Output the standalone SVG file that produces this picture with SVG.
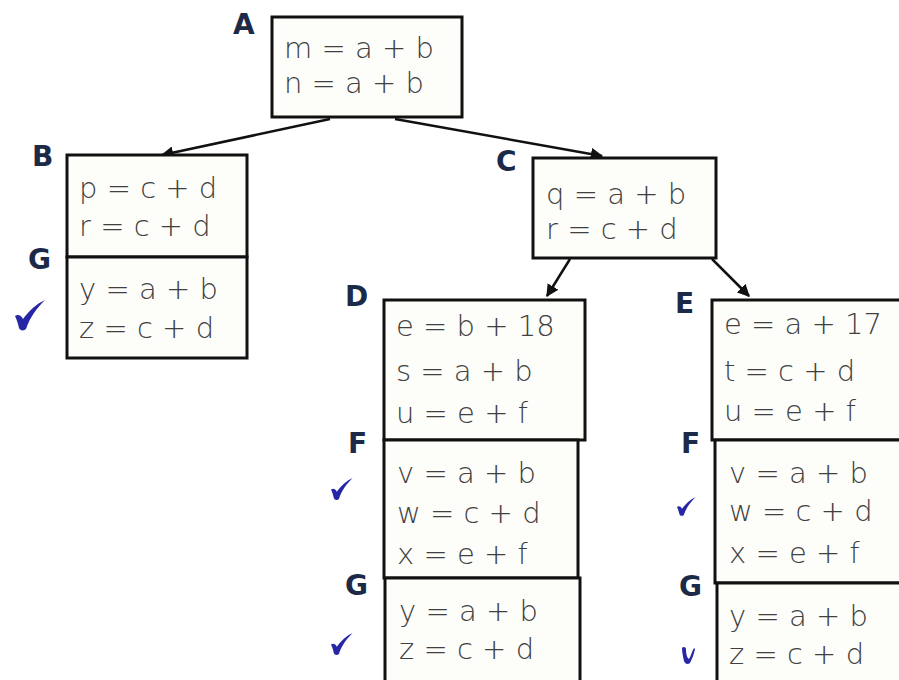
<svg xmlns="http://www.w3.org/2000/svg" width="899" height="680" viewBox="0 0 899 680">
<style>
.box{fill:#fdfdfa;stroke:#111;stroke-width:3}
.t{font-family:"DejaVu Sans",sans-serif;font-weight:200;font-size:29px;fill:#404040}
.lb{font-family:"DejaVu Sans",sans-serif;font-weight:bold;font-size:28px;fill:#1c2a48}
.edge{stroke:#111;stroke-width:2.5;fill:none;marker-end:url(#ah)}
.chk{fill:#2626a6}
</style>
<defs>
<marker id="ah" viewBox="0 0 10 10" refX="9" refY="5" markerWidth="5" markerHeight="5" orient="auto" markerUnits="strokeWidth">
<path d="M0,0 L10,5 L0,10 z" fill="#111"/>
</marker>
<path id="check" d="M0,16 C3,14 6,15 8,19 C14,11 21,4 30,0 C22,8 15,17 11,29 C9,31 5,31 4,28 C3,24 2,20 0,16 z"/>
</defs>
<rect width="899" height="680" fill="#ffffff"/>
<g id="connectors">
<line class="edge" x1="330" y1="119" x2="162" y2="155"/>
<line class="edge" x1="395" y1="119" x2="602" y2="156"/>
<line class="edge" x1="570" y1="259" x2="547" y2="296"/>
<line class="edge" x1="712" y1="259" x2="749" y2="296"/>
</g>
<g id="A">
<rect class="box" x="272" y="17" width="190" height="100"/>
<text class="lb" x="233" y="34">A</text>
<text class="t" x="284" y="58">m = a + b</text>
<text class="t" x="284" y="93">n = a + b</text>
</g>
<g id="B">
<rect class="box" x="67" y="155" width="180" height="102"/>
<text class="lb" x="32" y="166">B</text>
<text class="t" x="79" y="198">p = c + d</text>
<text class="t" x="79" y="236">r = c + d</text>
</g>
<g id="G1">
<rect class="box" x="67" y="257" width="180" height="101"/>
<text class="lb" x="28" y="269">G</text>
<text class="t" x="79" y="299">y = a + b</text>
<text class="t" x="79" y="338">z = c + d</text>
<use href="#check" class="chk" x="15" y="300"/>
</g>
<g id="C">
<rect class="box" x="533" y="158" width="183" height="100"/>
<text class="lb" x="496" y="171">C</text>
<text class="t" x="546" y="204">q = a + b</text>
<text class="t" x="546" y="239">r = c + d</text>
</g>
<g id="D">
<rect class="box" x="384" y="300" width="201" height="140"/>
<text class="lb" x="345" y="306">D</text>
<text class="t" x="396" y="336">e = b + 18</text>
<text class="t" x="396" y="381">s = a + b</text>
<text class="t" x="396" y="423">u = e + f</text>
</g>
<g id="F1">
<rect class="box" x="384" y="440" width="194" height="138"/>
<text class="lb" x="348" y="453">F</text>
<text class="t" x="397" y="483">v = a + b</text>
<text class="t" x="397" y="523">w = c + d</text>
<text class="t" x="397" y="564">x = e + f</text>
<use href="#check" class="chk" transform="translate(331,478) scale(0.72)"/>
</g>
<g id="G2">
<rect class="box" x="385" y="578" width="195" height="110"/>
<text class="lb" x="345" y="595">G</text>
<text class="t" x="399" y="621">y = a + b</text>
<text class="t" x="399" y="659">z = c + d</text>
<use href="#check" class="chk" transform="translate(331,633) scale(0.72)"/>
</g>
<g id="E">
<rect class="box" x="712" y="300" width="200" height="140"/>
<text class="lb" x="675" y="313">E</text>
<text class="t" x="724" y="334">e = a + 17</text>
<text class="t" x="724" y="381">t = c + d</text>
<text class="t" x="724" y="421">u = e + f</text>
</g>
<g id="F2">
<rect class="box" x="715" y="440" width="200" height="143"/>
<text class="lb" x="681" y="453">F</text>
<text class="t" x="729" y="483">v = a + b</text>
<text class="t" x="729" y="521">w = c + d</text>
<text class="t" x="729" y="563">x = e + f</text>
<use href="#check" class="chk" transform="translate(677,497) scale(0.62)"/>
</g>
<g id="G3">
<rect class="box" x="717" y="583" width="200" height="110"/>
<text class="lb" x="679" y="596">G</text>
<text class="t" x="729" y="626">y = a + b</text>
<text class="t" x="729" y="664">z = c + d</text>
<path class="chk" d="M682,648 C683,646 686,647 686,649 C686,654 687,658 689,659 C691,656 692,651 694,648 L695,649 C694,654 692,659 690,663 C688,665 685,664 684,661 C683,657 682,652 682,648 z"/>
</g>
</svg>
